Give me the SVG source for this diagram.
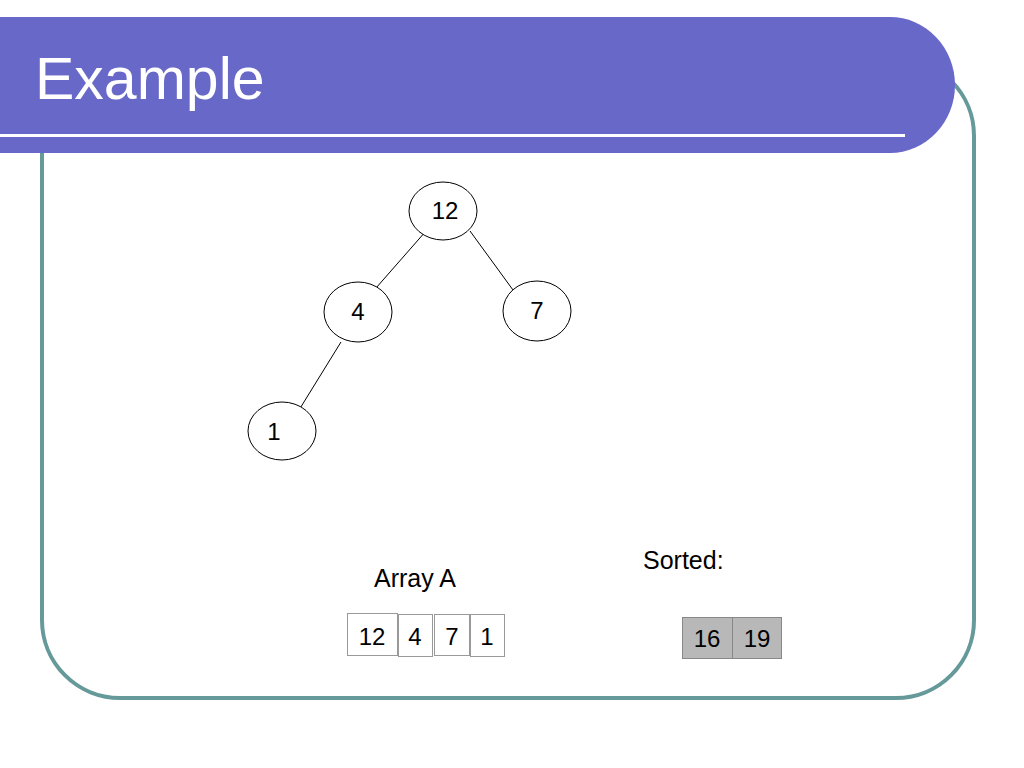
<svg xmlns="http://www.w3.org/2000/svg" width="1024" height="768" viewBox="0 0 1024 768">
<style>
.t{font-family:"Liberation Sans",Arial,sans-serif;fill:#000}
.node ellipse{fill:#fff;stroke:#000;stroke-width:1}
.node text{font-size:24px;text-anchor:middle}
.cell rect{fill:#fff;stroke:#999;stroke-width:1}
.cell text{font-size:24px;text-anchor:middle}
.gcell rect{fill:#b8b8b8;stroke:#888;stroke-width:1}
.gcell text{font-size:24px;text-anchor:middle}
#edges line{stroke:#000;stroke-width:1}
</style>
<rect width="1024" height="768" fill="#fff"/>
<g id="frame">
<rect x="42" y="58" width="932" height="640" rx="78" ry="78" fill="none" stroke="#669999" stroke-width="4"/>
</g>
<g id="header">
<path d="M0,17 H890 A65,68 0 0 1 890,153 H0 Z" fill="#6868c8"/>
<rect x="0" y="134" width="905" height="3" fill="#fff"/>
<text class="t" x="35" y="99" font-size="59" style="fill:#fff">Example</text>
</g>
<g id="edges">
<line x1="426" y1="231" x2="376" y2="288"/>
<line x1="470" y1="231" x2="513" y2="290"/>
<line x1="341" y1="342" x2="299" y2="410"/>
</g>
<g id="n12" class="node"><ellipse cx="443" cy="211" rx="34" ry="29"/><text class="t" x="445" y="219">12</text></g>
<g id="n4" class="node"><ellipse cx="358" cy="312" rx="34" ry="30"/><text class="t" x="358" y="320">4</text></g>
<g id="n7" class="node"><ellipse cx="537" cy="311" rx="34" ry="30"/><text class="t" x="537" y="319">7</text></g>
<g id="n1" class="node"><ellipse cx="282" cy="431" rx="34" ry="29"/><text class="t" x="274" y="440">1</text></g>
<g id="labelArray"><text class="t" x="374" y="587" font-size="25">Array A</text></g>
<g id="labelSorted"><text class="t" x="643" y="569" font-size="25">Sorted:</text></g>
<g id="arrayA">
<g class="cell"><rect x="347.5" y="613.5" width="50" height="42"/><text class="t" x="372" y="645">12</text></g>
<g class="cell"><rect x="398.5" y="614.5" width="34" height="42"/><text class="t" x="415" y="645">4</text></g>
<g class="cell"><rect x="434.5" y="614.5" width="35" height="41"/><text class="t" x="452" y="645">7</text></g>
<g class="cell"><rect x="470.5" y="614.5" width="34" height="42"/><text class="t" x="487" y="645">1</text></g>
</g>
<g id="sorted">
<g class="gcell"><rect x="682.5" y="617.5" width="50" height="41"/><text class="t" x="707" y="647">16</text></g>
<g class="gcell"><rect x="732.5" y="617.5" width="49" height="41"/><text class="t" x="757" y="647">19</text></g>
</g>
</svg>
